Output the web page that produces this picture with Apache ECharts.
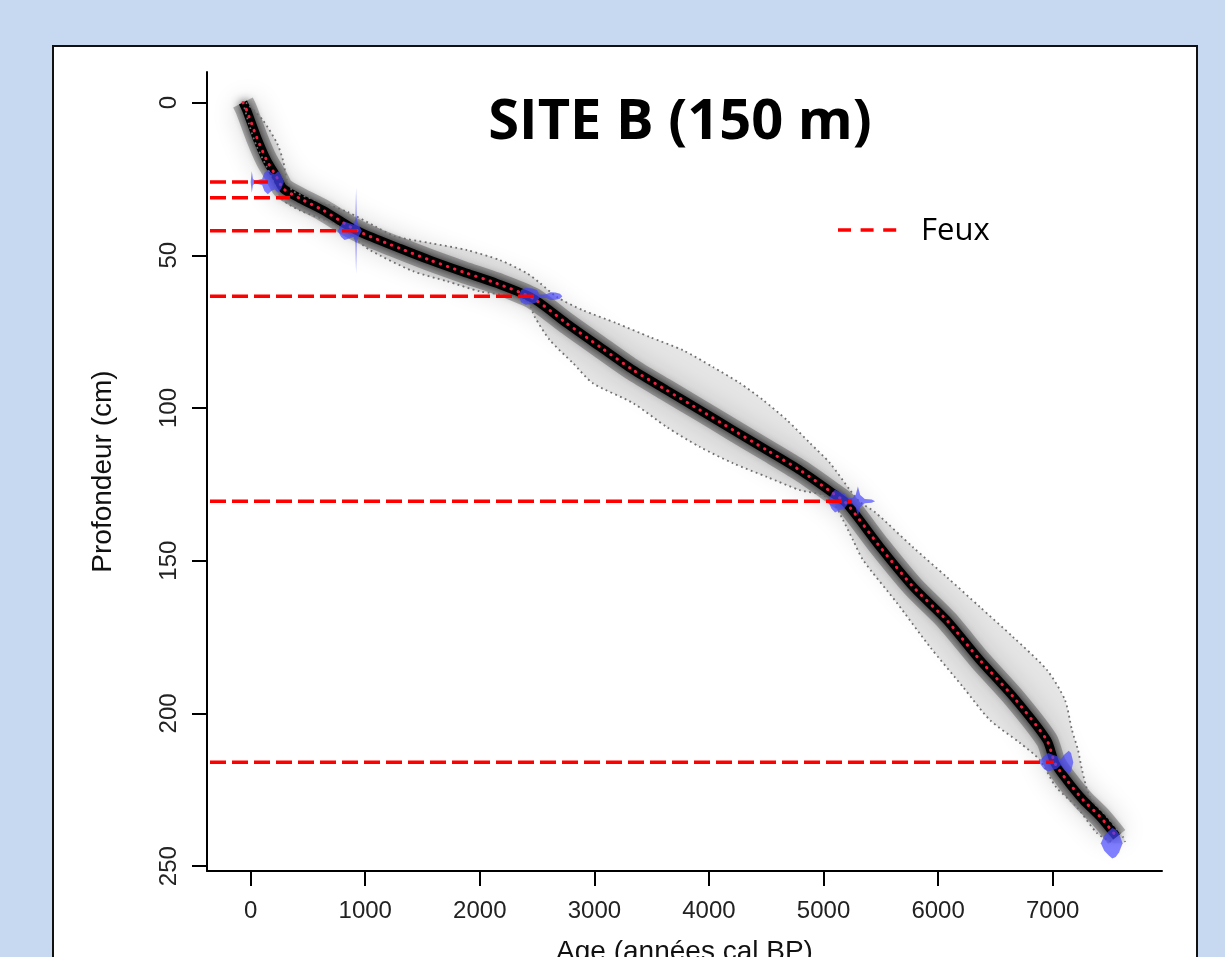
<!DOCTYPE html>
<html><head><meta charset="utf-8">
<script src="https://cdn.jsdelivr.net/npm/echarts@6/dist/echarts.min.js"></script>
<style>html,body{margin:0;padding:0;background:#c6d9f1}#c{width:1225px;height:957px}</style>
</head><body><div id="c"></div>
<script>
// ---- data (ages in cal BP, depths in cm) ----
const xTicks = [0,1000,2000,3000,4000,5000,6000,7000];
const yTicks = [0,50,100,150,200,250];

// median age-depth curve
const medianAge   = [-67,-35,52,140,227,285,430,634,867,983,1305,1565,1856,2147,2467,2758,3049,3339,3631,3922,4213,4504,4795,5085,5202,5493,5783,6075,6366,6656,6948,7020,7122,7267,7413,7559];
const medianDepth = [0,2.5,11.3,18.9,24.4,28.2,31.4,35.3,40.7,42.9,47.8,51.6,55.5,59.2,64.2,72.3,80.0,87.6,94.2,100.7,107.3,113.8,120.4,128.0,131.3,145.5,158.6,169.5,182.6,194.6,208.7,216.3,221.8,228.4,233.8,240.4];

// 95% envelope, older bound
const maxAge   = [-41,107,230,282,317,369,570,849,1085,1259,1565,1888,2176,2412,2525,2673,2900,3197,3485,3773,4035,4271,4472,4681,4882,5057,5231,5318,5449,5781,6077,6366,6654,6950,7107,7168,7221,7256,7325,7474,7614,7632];
const maxDepth = [0,5.8,13.3,18.9,25.4,29.0,32.0,35.9,40.5,43.8,46.0,48.3,51.6,55.9,59.1,63.7,68.0,72.3,76.8,81.1,86.6,91.9,97.4,104.0,111.5,118.1,126.9,130.8,134.1,145.6,155.4,165.2,175.0,185.8,195.6,205.4,212.0,218.5,227.4,233.9,240.5,242.1];
// 95% envelope, younger bound
const minAge   = [-67,-6,55,142,230,282,430,718,884,1041,1416,1713,2001,2289,2420,2481,2612,2813,2987,3337,3634,3922,4210,4507,4795,4995,5100,5170,5258,5345,5642,5930,6218,6453,6715,6889,7029,7212,7387,7527];
const minDepth = [0,8.1,14.6,21.2,28.7,32.0,35.3,39.5,43.8,48.3,55.2,58.5,61.8,63.4,65.4,70.3,77.8,85.3,91.9,98.4,106.3,112.8,118.1,122.6,126.9,128.5,131.8,136.7,143.3,149.8,163.9,178.3,191.4,202.2,209.7,215.3,224.1,230.7,239.2,242.4];

// calibrated dates (blue distributions)
const dateDepth = [26, 42, 63.4, 130.5, 216, 242.5];
const calAge = [
  [0,10,20,40,100,120,150,180,210,240,270,290],
  [760,790,820,860,900,915,920,925,940,970],
  [2340,2360,2400,2460,2500,2520,2580,2620,2660,2700,2720],
  [5040,5070,5100,5140,5180,5210,5250,5280,5300,5320,5360,5420,5450],
  [6880,6920,6960,7000,7040,7070,7100,7140,7160,7180],
  [7420,7450,7490,7520,7550,7580,7610]
];
const calHalf = [
  [0,3.5,1,0.5,1,3,4,3,2.5,3.5,2,0],
  [0,2,3,2.5,2,4,14,4,2,0],
  [0,2,2.8,2.5,2,0.5,0.6,1.3,1.2,0.8,0],
  [0,2.5,3.7,3,2.5,1,1,2,4.8,2,0.7,0.5,0],
  [0,2,3,2.5,2,1,2.5,3.8,3,0],
  [0,2.5,4,5,4.5,3,0]
];

// fires (Feux): depth and age where the line meets the model
const feuxDepth = [26, 31.2, 42, 63.4, 130.5, 216];
const feuxAge   = [151, 343, 928, 2499, 5248, 7011];

// ---- chart ----
const pairs = (a, d) => a.map((v, i) => [v, d[i]]);
const chart = echarts.init(document.getElementById('c'), null, {renderer: 'canvas'});
const tickFont = 'Liberation Sans, Arial, sans-serif';

const option = {
  backgroundColor: '#c6d9f1',
  animation: false,
  grid: {left: 207, right: 63, top: 72, bottom: 86, containLabel: false, outerBoundsMode: 'none'},
  xAxis: {
    type: 'value', min: -381, max: 7954,
    name: 'Age (années cal BP)', nameLocation: 'middle', nameGap: 67,
    nameTextStyle: {fontFamily: tickFont, fontSize: 28, color: '#111'},
    axisLine: {show: true, onZero: false, lineStyle: {color: '#000', width: 2}},
    axisTick: {show: true, customValues: xTicks, length: 15, lineStyle: {color: '#000', width: 2}},
    axisLabel: {customValues: xTicks, formatter: v => String(v), fontFamily: tickFont, fontSize: 24, color: '#222', margin: 28},
    splitLine: {show: false}
  },
  yAxis: {
    type: 'value', inverse: true, min: -10, max: 251.6,
    name: 'Profondeur (cm)', nameLocation: 'middle', nameGap: 90, nameRotate: 90,
    nameTextStyle: {fontFamily: tickFont, fontSize: 28, color: '#111'},
    axisLine: {show: true, onZero: false, lineStyle: {color: '#000', width: 2}},
    axisTick: {show: true, customValues: yTicks, length: 15, lineStyle: {color: '#000', width: 2}},
    axisLabel: {customValues: yTicks, formatter: v => String(v), rotate: 90, fontFamily: tickFont, fontSize: 24, color: '#222', margin: 26},
    splitLine: {show: false}
  },
  graphic: [
    {type: 'rect', z: -100, shape: {x: 53, y: 46, width: 1144, height: 1000},
     style: {fill: '#fff', stroke: '#111', lineWidth: 2}},
    {type: 'text', z: 100, x: 680, y: 123,
     style: {text: 'SITE B (150 m)', font: 'bold 56px "Open Sans", sans-serif', fill: '#000', align: 'center', verticalAlign: 'middle'}},
    {type: 'line', z: 100, shape: {x1: 838, y1: 230, x2: 905, y2: 230},
     style: {stroke: '#ff0000', lineWidth: 3.5, lineDash: [13, 9.6]}},
    {type: 'text', z: 100, x: 921, y: 231,
     style: {text: 'Feux', font: '31px "Open Sans", sans-serif', fill: '#000', align: 'left', verticalAlign: 'middle'}}
  ],
  series: [
    { // envelope fill
      type: 'custom', z: 1, silent: true, data: [[0, 0]],
      renderItem: function (params, api) {
        const pts = [];
        for (let i = 0; i < maxAge.length; i++) pts.push(api.coord([maxAge[i], maxDepth[i]]));
        for (let i = minAge.length - 1; i >= 0; i--) pts.push(api.coord([minAge[i], minDepth[i]]));
        return {type: 'polygon', shape: {points: pts, smooth: 0.25}, style: {fill: 'rgba(0,0,0,0.1)'}};
      }
    },
    { // soft grey density halo
      type: 'line', z: 2, silent: true, symbol: 'none', smooth: 0.25, data: pairs(medianAge, medianDepth),
      lineStyle: {color: 'rgba(0,0,0,0.28)', width: 22, shadowBlur: 26, shadowColor: 'rgba(0,0,0,0.55)', join: 'round', cap: 'butt'}
    },
    { // dark core
      type: 'line', z: 3, silent: true, symbol: 'none', smooth: 0.25, data: pairs(medianAge, medianDepth),
      lineStyle: {color: '#000', width: 9, shadowBlur: 10, shadowColor: 'rgba(0,0,0,0.9)', join: 'round', cap: 'butt'}
    },
    { // envelope upper/older bound (dotted)
      type: 'line', z: 4, silent: true, symbol: 'none', smooth: 0.25, data: pairs(maxAge, maxDepth),
      lineStyle: {color: '#707070', width: 1.8, type: [1.8, 3.4]}
    },
    { // envelope lower/younger bound (dotted)
      type: 'line', z: 4, silent: true, symbol: 'none', smooth: 0.25, data: pairs(minAge, minDepth),
      lineStyle: {color: '#707070', width: 1.8, type: [1.8, 3.4]}
    },
    { // median (red dotted)
      type: 'line', z: 5, silent: true, symbol: 'none', smooth: 0.25, data: pairs(medianAge, medianDepth),
      lineStyle: {color: '#f0203c', width: 3, type: [0.5, 7], cap: 'round'}
    },
    { // calibrated dates
      type: 'custom', z: 6, silent: true, data: dateDepth.map((d, i) => [i, d]),
      renderItem: function (params, api) {
        const i = params.dataIndex, d = dateDepth[i];
        const pts = [];
        for (let k = 0; k < calAge[i].length; k++) pts.push(api.coord([calAge[i][k], d - calHalf[i][k]]));
        for (let k = calAge[i].length - 1; k >= 0; k--) pts.push(api.coord([calAge[i][k], d + calHalf[i][k]]));
        return {type: 'polygon', shape: {points: pts}, style: {fill: 'rgba(70,70,255,0.68)'}};
      }
    },
    { // fires
      type: 'custom', z: 7, silent: true, data: feuxDepth.map((d, i) => [feuxAge[i], d]),
      renderItem: function (params, api) {
        const p = api.coord([api.value(0), api.value(1)]);
        const x0 = params.coordSys.x + 3;
        return {type: 'line', shape: {x1: x0, y1: p[1], x2: p[0], y2: p[1]},
                style: {stroke: '#ff0000', lineWidth: 3.5, lineDash: [16, 6]}};
      }
    }
  ]
};
chart.setOption(option);
</script></body></html>
